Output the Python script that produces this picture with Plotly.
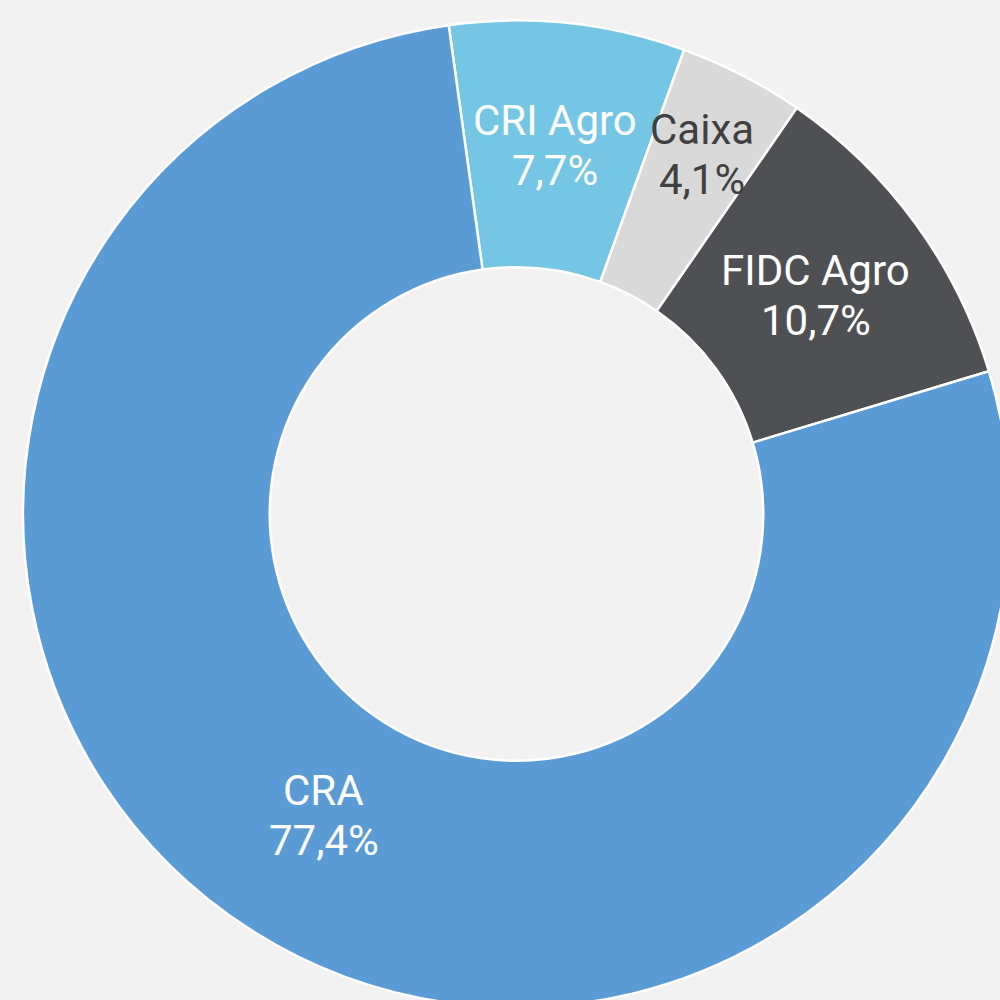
import math
import plotly.graph_objects as go

categories = ["CRI Agro", "Caixa", "FIDC Agro", "CRA"]
values = [7.7, 4.1, 10.7, 77.4]
value_labels = ["7,7%", "4,1%", "10,7%", "77,4%"]
colors = ["#75C6E4", "#D9D9D9", "#4F5053", "#5B9BD5"]
text_colors = ["#FFFFFF", "#404040", "#FFFFFF", "#FFFFFF"]
label_radius = [0.75, 0.82, 0.75, 0.725]

W, H = 1033, 1028
cx, cy, R = 516.5, 514.0, 493.5
rotation = -7.9
font_size = 42
line_half = 25

half_y = R / H
yc = 1 - cy / H
fig = go.Figure(go.Pie(
    labels=categories,
    values=values,
    sort=False,
    direction="clockwise",
    rotation=rotation,
    hole=0.5,
    textinfo="none",
    marker=dict(colors=colors, line=dict(color="#FFFFFF", width=2.5)),
    domain=dict(x=[0, 1], y=[yc - half_y, yc + half_y]),
    showlegend=False,
))

total = sum(values)
cum = 0.0
annotations = []
for name, v, lab, tc, rf in zip(categories, values, value_labels, text_colors, label_radius):
    mid = rotation + (cum + v / 2) / total * 360
    cum += v
    a = math.radians(mid)
    px = cx + rf * R * math.sin(a)
    py = cy - rf * R * math.cos(a)
    for txt, shift in ((name, line_half), (lab, -line_half)):
        annotations.append(dict(
            x=px / W, y=1 - py / H, xref="paper", yref="paper",
            text=txt, showarrow=False, yshift=shift,
            font=dict(family="Roboto", size=font_size, color=tc),
            xanchor="center", yanchor="middle", align="center",
        ))

fig.update_layout(
    width=W, height=H,
    margin=dict(l=0, r=0, t=0, b=0),
    paper_bgcolor="#F2F2F2",
    plot_bgcolor="#F2F2F2",
    annotations=annotations,
)

fig.write_html(
    "out.html",
    config={"displayModeBar": False},
    post_script="document.body.style.margin='0';document.body.style.overflow='hidden';document.body.style.background='#F2F2F2';",
)
